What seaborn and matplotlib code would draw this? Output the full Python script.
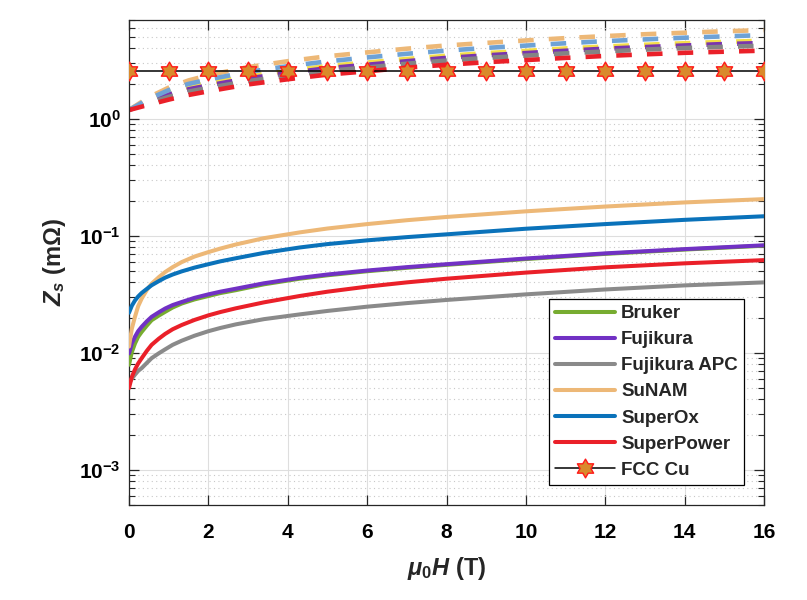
import matplotlib
matplotlib.use("Agg")
import matplotlib.pyplot as plt
import seaborn as sns
from matplotlib.path import Path
from matplotlib.ticker import LogLocator, NullFormatter, FixedLocator, FixedFormatter

# ---------------- data ----------------
H_solid = [0, 0.07, 0.15, 0.23, 0.32, 0.45, 0.57, 0.75, 0.91, 1.1, 1.33, 1.65, 2.0, 2.3,
           2.69, 3.4, 4.3, 5.0, 6, 7, 8, 10, 12, 14, 16]
Z_bruker = [0.0079, 0.0101, 0.0120, 0.0137, 0.0151, 0.0171, 0.019, 0.0208, 0.0224, 0.0244,
            0.0264, 0.0286, 0.0306, 0.0324, 0.0343, 0.0385, 0.0430, 0.0460, 0.0498, 0.0533,
            0.0565, 0.0633, 0.0701, 0.0763, 0.0823]
Z_fujikura = [0.0099, 0.0120, 0.0137, 0.0153, 0.0167, 0.0186, 0.0203, 0.0222, 0.0239, 0.0256,
              0.0272, 0.0295, 0.0316, 0.0333, 0.0353, 0.0393, 0.0437, 0.0467, 0.0505, 0.0540,
              0.0572, 0.0640, 0.0708, 0.0770, 0.0830]
Z_fujikura_apc = [0.0055, 0.0060, 0.0065, 0.0070, 0.0074, 0.0082, 0.0090, 0.0099, 0.0107,
                  0.0117, 0.0127, 0.0140, 0.0153, 0.0163, 0.0175, 0.0194, 0.0213, 0.0228,
                  0.0248, 0.0266, 0.0283, 0.0316, 0.0348, 0.0377, 0.0400]
Z_sunam = [0.0113, 0.0160, 0.0203, 0.0250, 0.0291, 0.0345, 0.039, 0.0443, 0.049, 0.0540,
           0.0597, 0.0665, 0.0726, 0.0778, 0.0843, 0.0955, 0.107, 0.1155, 0.126, 0.136,
           0.145, 0.162, 0.178, 0.193, 0.206]
Z_superox = [0.022, 0.0252, 0.0280, 0.0303, 0.0325, 0.0352, 0.0378, 0.041, 0.0439, 0.0467,
             0.0497, 0.0535, 0.0572, 0.0605, 0.0643, 0.0715, 0.0795, 0.0850, 0.0915, 0.0975,
             0.103, 0.115, 0.126, 0.137, 0.147]
Z_superpower = [0.0050, 0.0062, 0.0072, 0.0081, 0.009, 0.0104, 0.0117, 0.0132, 0.0145, 0.0159,
                0.0173, 0.0191, 0.0209, 0.0223, 0.0240, 0.0270, 0.0306, 0.0333, 0.0368,
                0.0400, 0.0430, 0.0485, 0.0538, 0.0582, 0.0620]

H_dash = [0, 0.5, 1, 1.5, 2, 3, 4, 5, 6, 7, 8, 9, 10, 11, 12, 13, 14, 15, 16]
Zd_bruker = [1.19, 1.47, 1.68, 1.87, 2.02, 2.32, 2.57, 2.83, 3.03, 3.25, 3.46, 3.65, 3.81,
             4.00, 4.15, 4.30, 4.43, 4.55, 4.66]
Zd_fujikura = [1.19, 1.41, 1.61, 1.79, 1.93, 2.22, 2.46, 2.71, 2.90, 3.11, 3.32, 3.49, 3.65,
               3.82, 3.98, 4.11, 4.24, 4.36, 4.45]
Zd_fujikura_apc = [1.19, 1.37, 1.54, 1.71, 1.84, 2.10, 2.34, 2.57, 2.75, 2.96, 3.15, 3.32,
                   3.47, 3.63, 3.77, 3.91, 4.03, 4.13, 4.22]
Zd_sunam = [1.19, 1.53, 1.85, 2.13, 2.36, 2.77, 3.11, 3.43, 3.70, 3.98, 4.24, 4.46, 4.68,
            4.90, 5.10, 5.29, 5.45, 5.61, 5.74]
Zd_superox = [1.19, 1.48, 1.76, 1.99, 2.17, 2.52, 2.82, 3.10, 3.35, 3.60, 3.83, 4.04, 4.23,
              4.43, 4.62, 4.78, 4.94, 5.07, 5.20]
Zd_superpower = [1.19, 1.32, 1.46, 1.60, 1.72, 1.97, 2.18, 2.39, 2.55, 2.74, 2.90, 3.05, 3.18,
                 3.32, 3.45, 3.56, 3.67, 3.75, 3.83]

H_cu = list(range(0, 17))
Z_cu = [2.56] * 17

labels = ["Bruker", "Fujikura", "Fujikura APC", "SuNAM", "SuperOx", "SuperPower"]
solid_colors = ["#77AC30", "#7131C4", "#8A8A8A", "#EDB877", "#0A72BA", "#EA2029"]
dash_colors = ["#F4DE4A", "#7A35AE", "#848484", "#EDB877", "#6EA2D6", "#EA2029"]
xtick_vals = [0, 2, 4, 6, 8, 10, 12, 14, 16]
ytick_vals = [1e-3, 1e-2, 1e-1, 1e0]
ytick_labels = [r"$10^{-3}$", r"$10^{-2}$", r"$10^{-1}$", r"$10^{0}$"]

# ---------------- style ----------------
sns.set_style("ticks")
plt.rcParams["font.family"] = ["Liberation Sans", "DejaVu Sans"]
plt.rcParams["font.weight"] = "bold"
plt.rcParams["mathtext.fontset"] = "custom"
plt.rcParams["mathtext.rm"] = "Liberation Sans:bold"
plt.rcParams["mathtext.bf"] = "Liberation Sans:bold"
plt.rcParams["mathtext.it"] = "Liberation Sans:bold:italic"
plt.rcParams["axes.unicode_minus"] = True

fig = plt.figure(figsize=(8.07, 6.0), dpi=100)
fig.patch.set_facecolor("white")
ax = fig.add_axes([129 / 807, 1 - 505 / 600, (764 - 129) / 807, (505 - 20) / 600])
ax.set_facecolor("white")

dashed_sets = [Zd_bruker, Zd_fujikura, Zd_fujikura_apc, Zd_sunam, Zd_superox, Zd_superpower]
for z, c in zip(dashed_sets, dash_colors):
    sns.lineplot(x=H_dash, y=z, ax=ax, color=c, lw=3.3, linestyle=(0, (3.4, 3.3)),
                 legend=False, zorder=2)

solid_sets = [Z_bruker, Z_fujikura, Z_fujikura_apc, Z_sunam, Z_superox, Z_superpower]
for z, c, lab in zip(solid_sets, solid_colors, labels):
    sns.lineplot(x=H_solid, y=z, ax=ax, color=c, lw=2.9, label=lab, zorder=3)

hexagram = Path.unit_regular_star(6, 0.577)
sns.lineplot(x=H_cu, y=Z_cu, ax=ax, color="black", lw=1.1, marker=hexagram,
             markersize=13.5, markerfacecolor="#D98A2B", markeredgecolor="#FF1A1A",
             markeredgewidth=1.0, label="FCC Cu", zorder=4)

ax.set_yscale("log")
ax.set_xlim(0, 16)
ax.set_ylim(5e-4, 7)
ax.xaxis.set_major_locator(FixedLocator(xtick_vals))
ax.set_xticklabels([str(v) for v in xtick_vals])
ax.yaxis.set_major_locator(FixedLocator(ytick_vals))
ax.yaxis.set_major_formatter(FixedFormatter(ytick_labels))
ax.yaxis.set_minor_locator(LogLocator(base=10, subs=range(2, 10), numticks=20))
ax.yaxis.set_minor_formatter(NullFormatter())

ax.grid(True, which="major", axis="both", color="#dedede", lw=0.8)
ax.grid(True, which="minor", axis="y", color="#c8c8c8", lw=0.8, linestyle=(0, (1, 3)))
ax.set_axisbelow(True)

ax.tick_params(which="both", direction="in", top=True, right=True, colors="#262626")
ax.tick_params(which="major", length=7, width=0.9, labelsize=15)
ax.tick_params(axis="x", which="major", pad=13)
ax.tick_params(axis="y", which="major", pad=6)
ax.tick_params(which="minor", length=4, width=0.8)
for lab in ax.get_xticklabels() + ax.get_yticklabels():
    lab.set_fontweight("bold")
    lab.set_color("black")
for s in ax.spines.values():
    s.set_color("#262626")
    s.set_linewidth(0.9)

ax.set_xlabel(r"$\mu_0H$ (T)", fontsize=17, fontweight="bold", labelpad=9)
ax.set_ylabel(r"$Z_s$ (mΩ)", fontsize=17, fontweight="bold", labelpad=8)

leg = ax.legend(loc="lower right", bbox_to_anchor=(0.9685, 0.0412), borderaxespad=0,
                frameon=True, fancybox=False, edgecolor="black", framealpha=1,
                prop={"weight": "bold", "size": 13.5}, handlelength=3.2,
                labelspacing=0.48, borderpad=0.33, handletextpad=0.3)
leg.get_frame().set_linewidth(0.9)

fig.savefig("out.png", dpi=100, facecolor="white")
